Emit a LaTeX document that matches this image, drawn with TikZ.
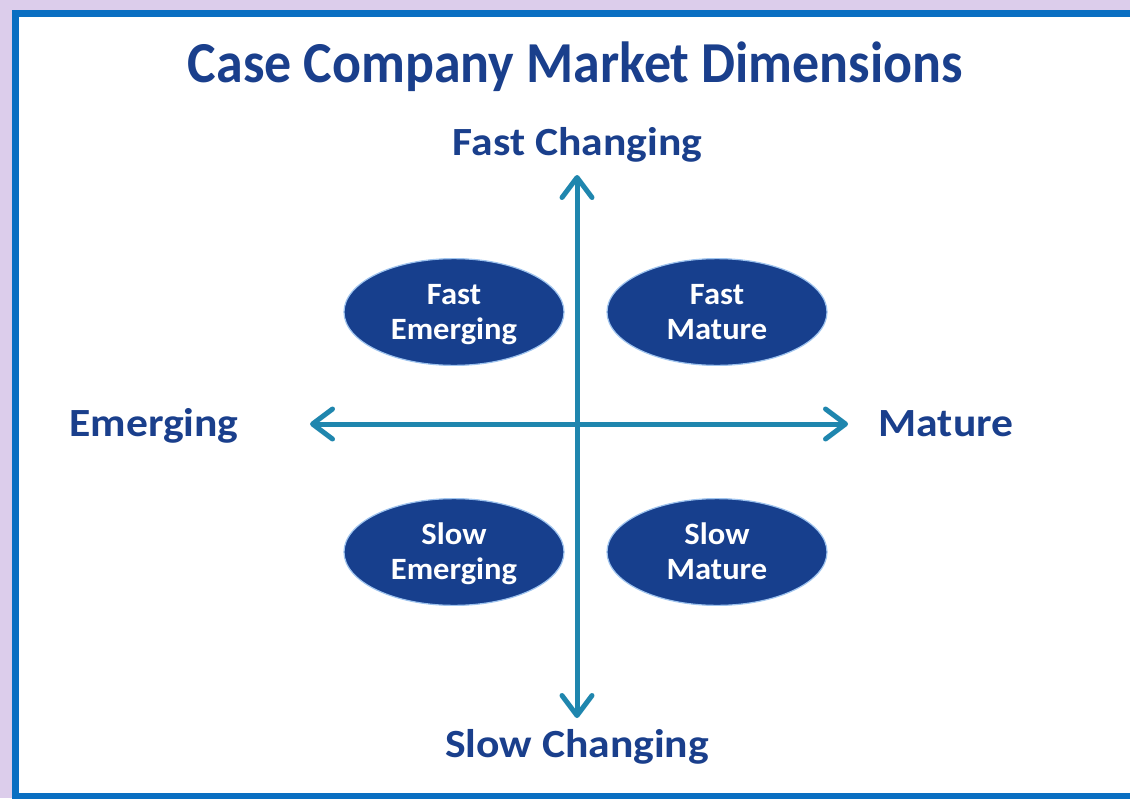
\documentclass[tikz,border=0pt]{standalone}
\usepackage{fontspec}
\setmainfont{Carlito}
\newfontfamily\widefont[FakeStretch=1.09]{Carlito}
\newfontfamily\ellfont[FakeStretch=1.05]{Carlito}
\newfontfamily\titlefont[FakeStretch=0.93]{Carlito}
\usetikzlibrary{arrows.meta,shapes.geometric}
\definecolor{navy}{HTML}{1A3F8C}
\definecolor{ellfill}{HTML}{173F8D}
\definecolor{ellrim}{HTML}{9EC3EE}
\definecolor{axis}{HTML}{1F86AE}
\definecolor{frame}{HTML}{0A6FC2}
\definecolor{glow}{HTML}{DCCDEB}
\newcommand{\topstrut}{\rule{0pt}{30pt}}
\tikzset{
  lbl/.style={font=\widefont\bfseries\fontsize{40}{44}\selectfont, text=navy, inner sep=0pt, anchor=base},
  quad/.style={ellipse, fill=ellfill, draw=ellrim, line width=1.2pt, minimum width=220pt, minimum height=105pt, inner sep=0pt, align=center, text=white, font=\ellfont\bfseries\fontsize{31}{35}\selectfont},
  axisline/.style={draw=axis, line width=5pt, {Straight Barb[length=20pt,width=30pt,round]}-{Straight Barb[length=20pt,width=30pt,round]}}
}
\begin{document}
\begin{tikzpicture}[x=1pt,y=-1pt]
\useasboundingbox (0,0) rectangle (1130,798);
\fill[white] (0,0) rectangle (1130,798);
\begin{scope}
\clip (0,0) rectangle (1130,798);
\fill[glow] (0,0) rectangle (1140,13);
\fill[glow] (0,0) rectangle (13,798);
\draw[frame, line width=7pt] (15.5,13.5) rectangle (1140,796);
\end{scope}
\node[font=\titlefont\bfseries\fontsize{58}{62}\selectfont, text=navy, inner sep=0pt, anchor=base] (title) at (575.5,82) {Case Company Market Dimensions};
\node[lbl] (top) at (577.5,155) {Fast Changing};
\node[lbl] (bot) at (577,757) {Slow Changing};
\node[lbl] (left) at (154,436) {Emerging};
\node[lbl] (right) at (946,436) {Mature};
\coordinate (xl) at (310,424);
\coordinate (xr) at (848,424);
\coordinate (yt) at (577,175);
\coordinate (yb) at (577,718);
\draw[axisline] (xl) -- (xr);
\draw[axisline] (yt) -- (yb);
\node[quad] (fe) at (454,312) {\topstrut Fast\\\strut Emerging};
\node[quad] (fm) at (717,312) {\topstrut Fast\\\strut Mature};
\node[quad] (se) at (454,552) {\topstrut Slow\\\strut Emerging};
\node[quad] (sm) at (717,552) {\topstrut Slow\\\strut Mature};
\end{tikzpicture}
\end{document}
